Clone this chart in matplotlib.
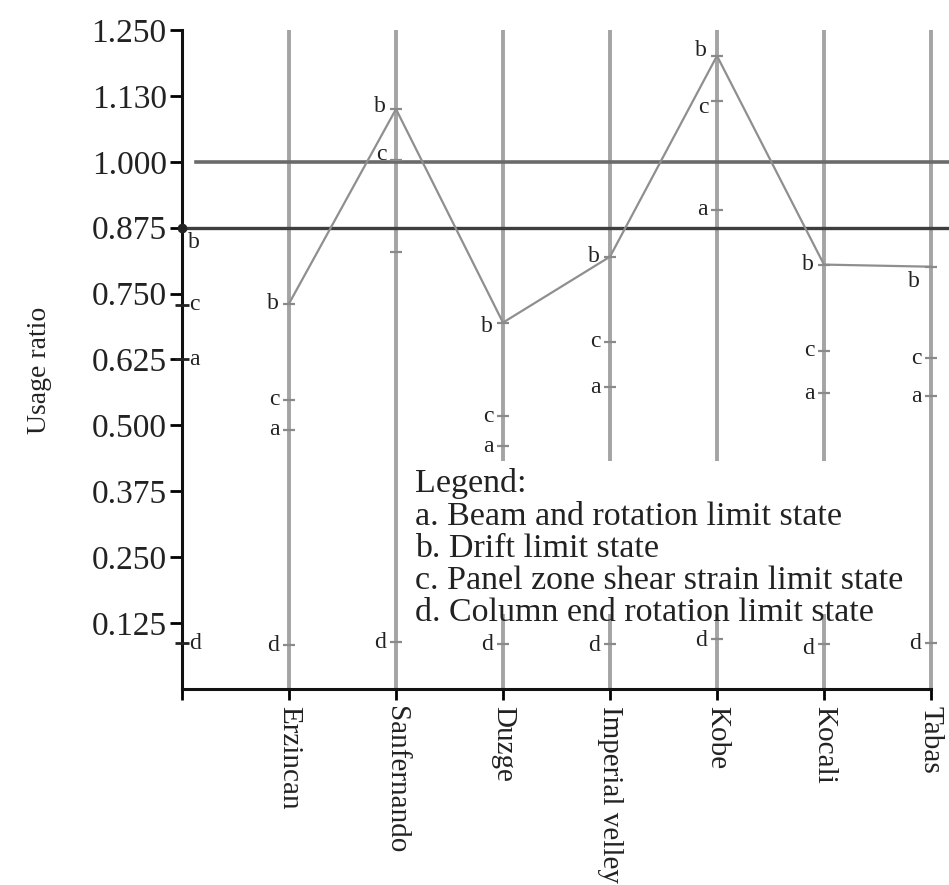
import matplotlib.pyplot as plt
from matplotlib.patches import Rectangle

plt.rcParams['font.family'] = ['Liberation Serif', 'DejaVu Serif']

# earthquake records (position 0 is the y axis itself)
records = ["Erzincan", "Sanfernando", "Duzge", "Imperial velley", "Kobe", "Kocali", "Tabas"]
pos = list(range(1, len(records) + 1))

# usage ratios, first value = marks on the y axis
a_vals = [0.625, 0.492, 0.828, 0.460, 0.572, 0.909, 0.561, 0.555]
b_vals = [0.875, 0.731, 1.100, 0.695, 0.820, 1.201, 0.805, 0.801]
c_vals = [0.729, 0.549, 1.004, 0.517, 0.659, 1.116, 0.642, 0.627]
d_vals = [0.087, 0.083, 0.089, 0.085, 0.085, 0.095, 0.085, 0.087]

ytick_vals = [0.125, 0.25, 0.375, 0.5, 0.625, 0.75, 0.875, 1.0, 1.125, 1.25]
ytick_labels = ["0.125", "0.250", "0.375", "0.500", "0.625", "0.750", "0.875", "1.000", "1.130", "1.250"]

legend_lines = ["Legend:",
                "a. Beam and rotation limit state",
                "b. Drift limit state",
                "c. Panel zone shear strain limit state",
                "d. Column end rotation limit state"]

fig = plt.figure(figsize=(9.49, 8.85), dpi=100)
ax = fig.add_axes([0.1918, 0.2215, 0.7892, 0.7446])
ax.set_xlim(0, 7)
ax.set_ylim(0, 1.25)

line_grey = "#a4a4a4"
mark_grey = "#8a8a8a"
txt_col = "#222222"

# vertical lines for each record
ax.vlines(pos, 0, 1.25, color=line_grey, lw=2.8, zorder=1, clip_on=False)

# horizontal limit lines running past the axis end
ax.plot([0.13, 7.2], [1.0, 1.0], color="#6a6a6a", lw=2.6, clip_on=False, zorder=2)
ax.plot([0, 7.2], [0.875, 0.875], color="#3e3e3e", lw=2.4, clip_on=False, zorder=2)

# drift line
ax.plot(pos, b_vals[1:], color="#8f8f8f", lw=1.6, zorder=3, clip_on=False)

# white block behind the legend text
ax.add_patch(Rectangle((2.2, 0.142), 4.6, 0.29, facecolor="white", edgecolor="none", zorder=4))

# small tick marks on the record lines
for vals in (a_vals, b_vals, c_vals, d_vals):
    ax.plot(pos, vals[1:], ls="none", marker="_", ms=9, mew=1.6, color=mark_grey,
            zorder=5, clip_on=False)

# marks on the y axis
ax.plot([0, 0, 0], [a_vals[0], c_vals[0], d_vals[0]], ls="none", marker="_", ms=10,
        mew=2, color="#222222", clip_on=False, zorder=6)
ax.plot([0], [b_vals[0]], ls="none", marker="o", ms=6, color="#222222", clip_on=False, zorder=6)

# letters
offsets = {("b", 0): (4, -11), ("b", 2): (-7, 2), ("c", 2): (-7, 4), ("b", 3): (-7, -3),
           ("b", 5): (-7, 4), ("c", 5): (-6, -5), ("b", 7): (-8, -11), ("d", 5): (-7, -1),
           ("d", 6): (-7, -3), ("d", 4): (-7, -1)}
hidden = {("a", 2)}
for letter, vals in (("a", a_vals), ("b", b_vals), ("c", c_vals), ("d", d_vals)):
    for i, v in enumerate(vals):
        if (letter, i) in hidden:
            continue
        if i == 0:
            dx, dy = offsets.get((letter, i), (5, 0))
            ha = "left"
        else:
            dx, dy = offsets.get((letter, i), (-7, 0))
            ha = "right"
        ax.annotate(letter, (i, v), xytext=(dx, dy), textcoords="offset points",
                    ha=ha, va="center", fontsize=17, color=txt_col, zorder=7,
                    annotation_clip=False)

# legend block, one text per row
for k, line in enumerate(legend_lines):
    ax.text(2.18, 0.373 - k * 0.0612, line, ha="left", va="baseline", fontsize=24.5,
            color=txt_col, zorder=6)

# axes styling
for s in ("top", "right"):
    ax.spines[s].set_visible(False)
for s in ("left", "bottom"):
    ax.spines[s].set_linewidth(2.2)
    ax.spines[s].set_color("#111111")

ax.set_yticks(ytick_vals)
ax.set_yticklabels(ytick_labels)
ax.set_xticks([0] + pos)
ax.set_xticklabels([""] + records, rotation=-90, va="top", ha="center")
ax.tick_params(axis="y", direction="out", length=9, width=2, labelsize=24,
               labelcolor=txt_col, pad=2)
ax.tick_params(axis="x", direction="out", length=8, width=2, labelsize=21,
               labelcolor=txt_col, pad=4)
ax.set_ylabel("Usage ratio", fontsize=20, color=txt_col)
ax.yaxis.set_label_coords(-0.173, 0.484)

fig.savefig("out.png", dpi=100)
